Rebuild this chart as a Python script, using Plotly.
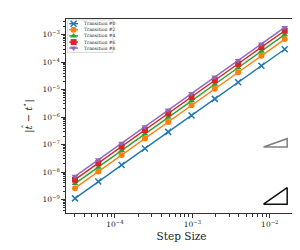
import plotly.graph_objects as go

# ---- data ----
step_size = [3.05e-5, 6.1e-5, 1.22e-4, 2.44e-4, 4.88e-4, 9.77e-4, 1.95e-3, 3.91e-3, 7.81e-3, 1.56e-2]

series_names = ["Transition #0", "Transition #2", "Transition #4", "Transition #6", "Transition #8"]
err_t0 = [1.1e-9, 4.5e-9, 1.8e-8, 7.2e-8, 2.9e-7, 1.15e-6, 4.6e-6, 1.85e-5, 7.4e-5, 2.95e-4]
err_t2 = [2.6e-9, 1.05e-8, 4.2e-8, 1.67e-7, 6.7e-7, 2.7e-6, 1.07e-5, 4.3e-5, 1.7e-4, 6.9e-4]
err_t4 = [3.8e-9, 1.5e-8, 6.1e-8, 2.45e-7, 9.8e-7, 3.9e-6, 1.57e-5, 6.3e-5, 2.5e-4, 1.0e-3]
err_t6 = [5.3e-9, 2.1e-8, 8.5e-8, 3.4e-7, 1.36e-6, 5.4e-6, 2.2e-5, 8.7e-5, 3.5e-4, 1.39e-3]
err_t8 = [7.0e-9, 2.8e-8, 1.12e-7, 4.5e-7, 1.8e-6, 7.2e-6, 2.9e-5, 1.15e-4, 4.6e-4, 1.84e-3]
series_values = [err_t0, err_t2, err_t4, err_t6, err_t8]

colors = ["#1f77b4", "#ff7f0e", "#2ca02c", "#d62728", "#9467bd"]
symbols = ["x-thin", "circle", "triangle-up", "square", "triangle-down"]

# slope reference triangles (order 1 in grey, order 2 in black)
tri1_x = [8.3e-3, 1.68e-2, 1.68e-2, 8.3e-3]
tri1_y = [8.2e-8, 8.2e-8, 1.64e-7, 8.2e-8]
tri2_x = [8.3e-3, 1.68e-2, 1.68e-2, 8.3e-3]
tri2_y = [6.8e-10, 6.8e-10, 2.7e-9, 6.8e-10]

FONT = "DejaVu Serif"

fig = go.Figure()

def marker_for(i, size):
    if symbols[i] == "x-thin":
        return dict(symbol="x-thin", size=size, color=colors[i], line=dict(width=1.5, color=colors[i]))
    return dict(symbol=symbols[i], size=size, color=colors[i], line=dict(width=0))

for i, (name, vals) in enumerate(zip(series_names, series_values)):
    fig.add_trace(go.Scatter(
        x=step_size, y=vals, mode="lines+markers", name=name,
        line=dict(color=colors[i], width=1.4),
        marker=marker_for(i, 6), showlegend=False,
    ))

fig.add_trace(go.Scatter(x=tri1_x, y=tri1_y, mode="lines", line=dict(color="#808080", width=1.5),
                         showlegend=False, hoverinfo="skip"))
fig.add_trace(go.Scatter(x=tri2_x, y=tri2_y, mode="lines", line=dict(color="#111111", width=1.5),
                         showlegend=False, hoverinfo="skip"))

# ---- manual compact legend (overlay axis in plot-fraction units) ----
leg_rows = [0.976, 0.945, 0.913, 0.881, 0.850]
for i, name in enumerate(series_names):
    fig.add_trace(go.Scatter(
        x=[0.014, 0.052], y=[leg_rows[i], leg_rows[i]], mode="lines",
        line=dict(color=colors[i], width=1.4), xaxis="x2", yaxis="y2",
        showlegend=False, hoverinfo="skip"))
    fig.add_trace(go.Scatter(
        x=[0.033], y=[leg_rows[i]], mode="markers", marker=marker_for(i, 6),
        xaxis="x2", yaxis="y2", showlegend=False, hoverinfo="skip"))
    fig.add_annotation(x=0.07, y=leg_rows[i], xref="paper", yref="paper", text=name,
                       showarrow=False, xanchor="left", yanchor="middle",
                       font=dict(family=FONT, size=4.5, color="#222"))

fig.add_shape(type="rect", xref="paper", yref="paper", x0=0.007, x1=0.204, y0=0.828, y1=0.995,
              line=dict(color="#cccccc", width=0.8), fillcolor="rgba(255,255,255,0.8)", layer="below")

axis_common = dict(
    type="log", showgrid=False, zeroline=False, showline=True, linecolor="#333333", linewidth=1,
    mirror=True, ticks="outside", ticklen=4, tickwidth=1, tickcolor="#333333",
    tickfont=dict(family=FONT, size=6, color="#222"),
    tickmode="linear", tick0=0, dtick=1, exponentformat="power", showexponent="all",
    minor=dict(ticks="outside", ticklen=2.5, tickcolor="#333333", tickwidth=1, dtick="D1",
               showgrid=False),
)

fig.update_layout(
    width=300, height=250,
    margin=dict(l=58, r=11, t=11, b=45),
    paper_bgcolor="white", plot_bgcolor="white",
    font=dict(family=FONT, color="#222"),
    xaxis=dict(**axis_common, range=[-4.632, -1.648],
               title=dict(text="Step Size", font=dict(family=FONT, size=10.5), standoff=4)),
    yaxis=dict(**axis_common, range=[-9.49, -2.43],
               title=dict(text="|<i>t̂</i> − <i>t</i><sup>⋆</sup>|", font=dict(family=FONT, size=10),
                          standoff=8)),
    xaxis2=dict(overlaying="x", range=[0, 1], visible=False, fixedrange=True),
    yaxis2=dict(overlaying="y", range=[0, 1], visible=False, fixedrange=True),
    showlegend=False,
)

fig.write_html("out.html")
